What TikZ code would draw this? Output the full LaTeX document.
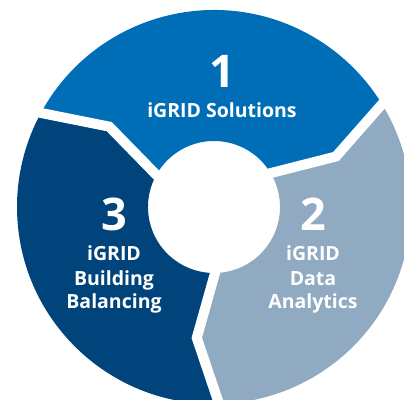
\documentclass[tikz,border=0pt]{standalone}
\usepackage{fontspec}
\setmainfont{Open Sans}
\definecolor{segA}{RGB}{0,110,182}
\definecolor{segB}{RGB}{143,170,193}
\definecolor{segC}{RGB}{0,68,123}
\tikzset{
  seglbl/.style={text=white,font=\bfseries\fontsize{19.5}{22}\selectfont,anchor=base,inner sep=0pt},
  segnum/.style={text=white,font=\bfseries\fontsize{45}{50}\selectfont,anchor=base,inner sep=0pt},
  gapline/.style={draw=white,line width=10pt,line join=miter}
}
\begin{document}
\begin{tikzpicture}[x=1pt,y=1pt]
\useasboundingbox (-214,-192) rectangle (190,207);
\def\ri{66}\def\rm{132}\def\ro{197}
\foreach \a/\c in {32/segB,152/segA,272/segC}{
  \pgfmathsetmacro{\b}{\a-120}
  \pgfmathsetmacro{\bb}{\b-9.5}
  \pgfmathsetmacro{\ab}{\a-9.5}
  \fill[\c] (\a:\ri) -- (\ab:\rm) -- (\a:\ro)
     arc[start angle=\a,end angle=\b,radius=\ro]
     -- (\bb:\rm) -- (\b:\ri)
     arc[start angle=\b,end angle=\a,radius=\ri] -- cycle;
}
\foreach \a in {32,152,272}{
  \pgfmathsetmacro{\ab}{\a-9.5}
  \draw[gapline] (\a:\ri-4) -- (\ab:\rm) -- (\a:\ro+6);
}
\node[segnum] (n1) at (8,119) {1};
\node[seglbl] (t1) at (8,90) {iGRID Solutions};
\node[segnum] (n2) at (99,-23) {2};
\node[seglbl] (t2a) at (99,-53) {iGRID};
\node[seglbl] (t2b) at (99,-78) {Data};
\node[seglbl] (t2c) at (99,-101) {Analytics};
\node[segnum] (n3) at (-100,-23) {3};
\node[seglbl] (t3a) at (-100,-53) {iGRID};
\node[seglbl] (t3b) at (-100,-78) {Building};
\node[seglbl] (t3c) at (-100,-101) {Balancing};
\end{tikzpicture}
\end{document}
